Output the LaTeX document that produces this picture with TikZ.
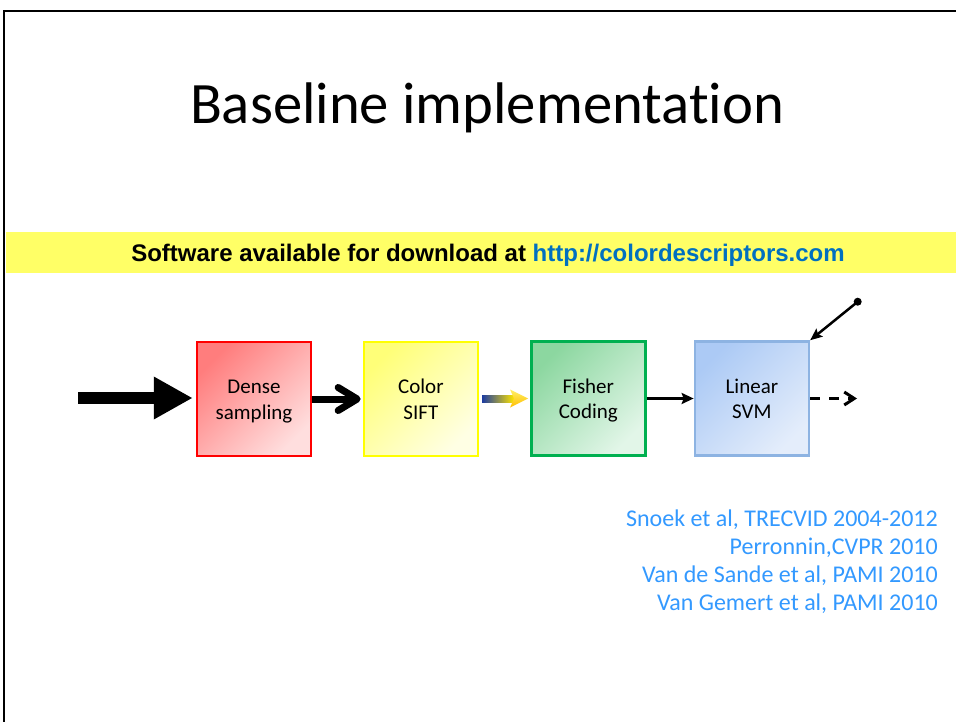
\documentclass[tikz,border=0pt]{standalone}
\usepackage{fontspec}
\setmainfont{Carlito}[Ligatures=NoCommon]
\newfontfamily\arialfont{Liberation Sans}
\usetikzlibrary{arrows.meta,calc}
\definecolor{denseA}{RGB}{255,125,125}
\definecolor{denseB}{RGB}{255,222,222}
\definecolor{denseE}{RGB}{255,0,0}
\definecolor{siftA}{RGB}{255,255,120}
\definecolor{siftB}{RGB}{255,255,228}
\definecolor{siftE}{RGB}{255,255,0}
\definecolor{fishA}{RGB}{140,215,160}
\definecolor{fishB}{RGB}{226,246,232}
\definecolor{fishE}{RGB}{0,176,80}
\definecolor{svmA}{RGB}{172,202,245}
\definecolor{svmB}{RGB}{228,237,251}
\definecolor{svmE}{RGB}{141,179,226}
\definecolor{bannerY}{RGB}{255,255,102}
\definecolor{urlblue}{RGB}{0,112,192}
\definecolor{citeblue}{RGB}{51,153,255}
\definecolor{gblue}{RGB}{30,60,160}
\definecolor{ggreen}{RGB}{40,165,80}
\definecolor{gyellow}{RGB}{255,230,0}
\definecolor{gorange}{RGB}{255,190,0}
\newcommand{\tl}{\rule{0pt}{18.5pt}}
\newcommand{\bl}{\vphantom{g}}
\tikzset{
  boxnode/.style={minimum width=114, minimum height=114, inner sep=0, line width=2.5,
    font=\fontsize{21}{25.5}\selectfont, align=center},
  citenode/.style={anchor=base east, text=citeblue, font=\fontsize{24}{28}\selectfont, inner sep=0},
}
\begin{document}
\begin{tikzpicture}[x=1pt,y=-1pt]
\useasboundingbox (0,0) rectangle (956,722);
\begin{scope}
\clip (0,0) rectangle (956,722);
\fill[white] (0,0) rectangle (956,722);
\draw[line width=2.3] (4.3,740) |- (970,11.3);
\fill[bannerY] (5.5,232) rectangle (956,273);
\end{scope}
\node[anchor=base, inner sep=0, font=\fontsize{58.67}{70}\selectfont] (title) at (487,123.3) {Baseline implementation};
\node[anchor=base, inner sep=0, font=\arialfont\bfseries\fontsize{24}{28}\selectfont] (banner) at (488,261.7)
  {Software available for download at \textcolor{urlblue}{http://colordescriptors.com}};
\node[boxnode, draw=denseE, top color=denseA, bottom color=denseB, shading angle=45] (dense) at (254,399) {\tl Dense\\sampling\bl};
\node[boxnode, draw=siftE, top color=siftA, bottom color=siftB, shading angle=45] (sift) at (420.9,399) {\tl Color\\SIFT\bl};
\node[boxnode, draw=fishE, top color=fishA, bottom color=fishB, shading angle=45] (fisher) at (588.3,398.5) {\tl Fisher\\Coding\bl};
\node[boxnode, draw=svmE, top color=svmA, bottom color=svmB, shading angle=45] (svm) at (751.9,398.5) {\tl Linear\\SVM\bl};
% input arrow
\coordinate (in) at (78,398);
\draw[line width=12, -{Triangle[length=39pt,width=40pt]}, shorten >=3] (in) -- (in -| dense.west);
% dense -> sift
\draw[line width=7, -{Straight Barb[length=19pt,width=23pt,line cap=round,line join=round]}, shorten >=2] (dense.east) -- (sift.west);
% sift -> fisher gradient arrow
\shade[left color=gblue, middle color=ggreen, right color=gyellow] ($(sift.east)+(3,-3.5)$) rectangle ($(fisher.west)+(-16,3.5)$);
\shade[top color=gyellow!60!white, bottom color=gorange] ($(fisher.west)+(-2,0)$) -- ++(-18,-9) -- ++(4,9) -- ++(-4,9) -- cycle;
% fisher -> svm
\draw[line width=3, -{Stealth[length=12pt,width=11pt,inset=2pt]}] (fisher.east) -- (svm.west);
% svm -> out (dashed)
\coordinate (out) at (857,398.5);
\draw[line width=3, dash pattern=on 10 off 9, -{Straight Barb[length=10pt,width=13pt]}] (svm.east) -- (out);
% parameter arrow
\coordinate (par) at (857.7,301.7);
\fill (par) circle (4);
\draw[line width=2.5, -{Stealth[length=12pt,width=10pt,inset=2pt]}] (par) -- (svm.north east);
% citations
\node[citenode] (c1) at (938,526.7) {Snoek et al, TRECVID 2004-2012};
\node[citenode] (c2) at (938,554.5) {Perronnin,CVPR 2010};
\node[citenode] (c3) at (938,582.3) {Van de Sande et al, PAMI 2010};
\node[citenode] (c4) at (938,610.1) {Van Gemert et al, PAMI 2010};
\end{tikzpicture}
\end{document}
